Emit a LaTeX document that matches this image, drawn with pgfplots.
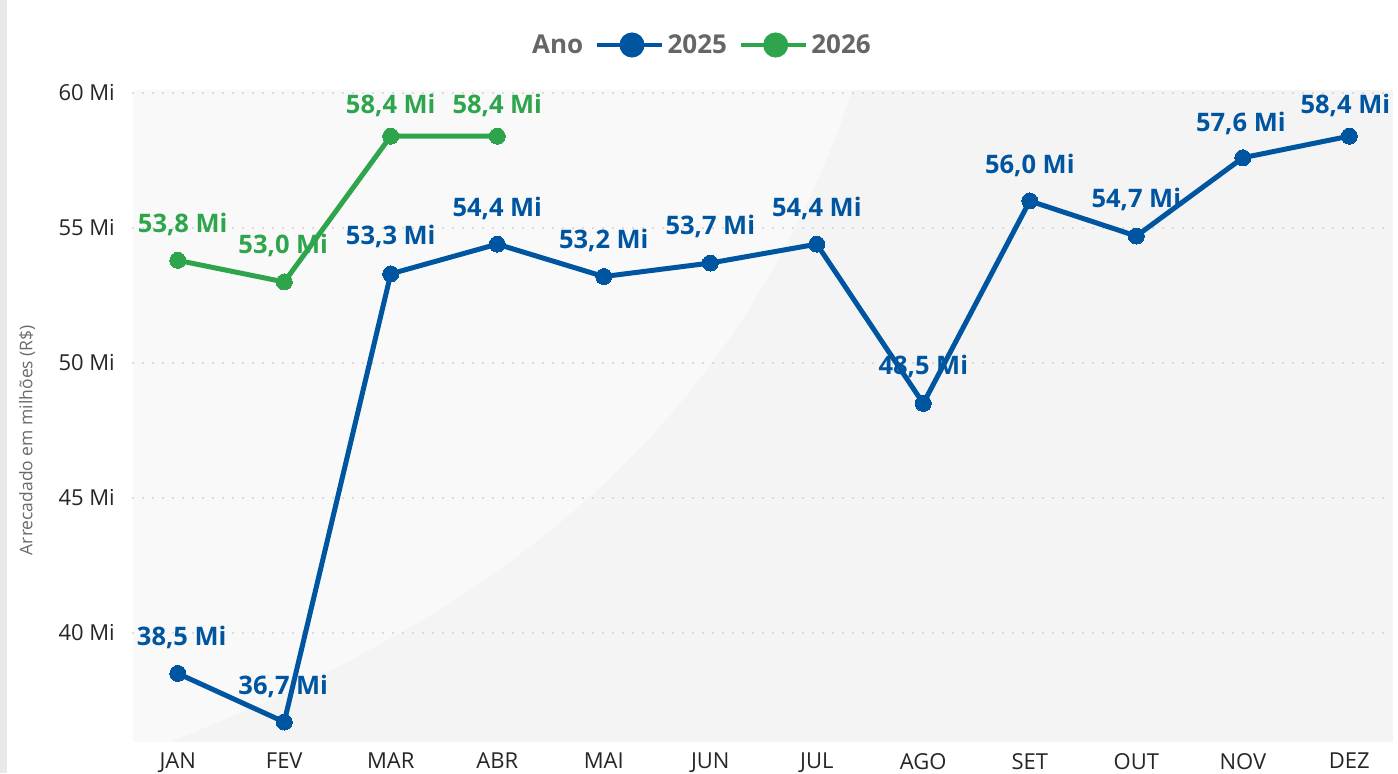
\documentclass[border=0pt]{standalone}
\usepackage{fontspec}
\setmainfont{Open Sans}
\usepackage{pgfplots}
\usepackage{pgfplotstable}
\pgfplotsset{compat=1.18}
\definecolor{c25}{RGB}{0,85,160}
\definecolor{c26}{RGB}{46,165,76}
\definecolor{bg}{RGB}{244,244,244}
\definecolor{bglight}{RGB}{249,249,249}
\definecolor{legtext}{RGB}{102,102,102}
\definecolor{gridc}{RGB}{190,190,190}
\definecolor{stripc}{RGB}{232,232,232}

\pgfplotstableread{
x y dx dy
0 38.5 4 37.5
1 36.7 -1 37
2 53.3 0 38.5
3 54.4 0 36.5
4 53.2 0 37
5 53.7 0 38
6 54.4 0 37
7 48.5 0 38
8 56.0 0 37
9 54.7 0 38
10 57.6 -2 36
11 58.4 -4 32
}\dataA

\pgfplotstableread{
x y dx dy
0 53.8 5 37
1 53.0 -1 38
2 58.4 0 32
3 58.4 0 32
}\dataB

\begin{document}
\begin{tikzpicture}
\begin{axis}[
  set layers,
  at={(0,0)}, anchor=south west,
  scale only axis, width=1260bp, height=652bp,
  xmin=-0.42, xmax=11.41, ymin=35.96, ymax=60.11,
  axis line style={draw=none},
  xtick={0,...,11},
  xticklabels={JAN,FEV,MAR,ABR,MAI,JUN,JUL,AGO,SET,OUT,NOV,DEZ},
  ytick={40,45,50,55,60},
  yticklabel={\pgfmathprintnumber{\tick} Mi},
  /pgf/number format/assume math mode=true,
  major tick length=0pt,
  ymajorgrids,
  major grid style={gridc, line width=1.7bp, dash pattern=on 0pt off 10bp, line cap=round},
  tick label style={font=\fontsize{22bp}{26bp}\selectfont, text=black!85},
  xticklabel style={inner sep=0pt, anchor=north, yshift=-11bp},
  yticklabel style={inner sep=0pt, anchor=east, xshift=-18bp},
  clip=false,
  nodes near coords={\pgfmathprintnumber[fixed,fixed zerofill,precision=1,use comma]{\pgfplotspointmeta} Mi},
  visualization depends on={\thisrow{dx}\as\dx},
  visualization depends on={\thisrow{dy}\as\dy},
  every node near coord/.append style={font=\fontsize{25.5bp}{30bp}\selectfont\bfseries, inner sep=0pt, anchor=base, xshift={\dx*1bp}, yshift={(\dy-9.3)*1bp}},
  legend columns=-1,
  legend style={draw=none, fill=none, at={(rel axis cs:0.3135,1.069)}, anchor=west, inner sep=0pt,
    font=\fontsize{26bp}{30bp}\selectfont\bfseries, text=legtext,
    nodes={inner sep=0pt},
    /tikz/every odd column/.append style={column sep=4bp},
    /tikz/every even column/.append style={column sep=12bp}},
]
\begin{pgfonlayer}{axis background}
\fill[bg] (rel axis cs:0,0) rectangle (rel axis cs:1,1);
\fill[bglight] (rel axis cs:0,0) -- (rel axis cs:0.029,0) .. controls (rel axis cs:0.25,0.17) and (rel axis cs:0.47,0.42) .. (rel axis cs:0.571,1) -- (rel axis cs:0,1) -- cycle;
\end{pgfonlayer}
\node[rotate=90, font=\fontsize{17.5bp}{20bp}\selectfont, text=black!58] at (rel axis cs:-0.0841,0.463) {Arrecadado em milhões (R\$)};

\addlegendimage{empty legend}
\addlegendentry{Ano}

\addplot[c25, line width=5bp, mark=*, mark size=8bp, mark options={draw=c25, fill=c25, line width=0pt},
  every node near coord/.append style={text=c25},
  legend image code/.code={\draw[c25,line width=3.3bp] (0bp,0bp)--(65bp,0bp); \fill[c25] (35bp,0bp) circle (10bp);}]
  table[x=x,y=y] {\dataA};
\addlegendentry{2025}

\addplot[c26, line width=5bp, mark=*, mark size=8bp, mark options={draw=c26, fill=c26, line width=0pt},
  every node near coord/.append style={text=c26},
  legend image code/.code={\draw[c26,line width=3.3bp] (0bp,0bp)--(65bp,0bp); \fill[c26] (35bp,0bp) circle (10bp);}]
  table[x=x,y=y] {\dataB};
\addlegendentry{2026}
\end{axis}
\fill[stripc] (-133bp,-31bp) rectangle (-126bp,742bp);
\path (-133bp,-31bp) rectangle (1265bp,742bp);
\end{tikzpicture}
\end{document}
